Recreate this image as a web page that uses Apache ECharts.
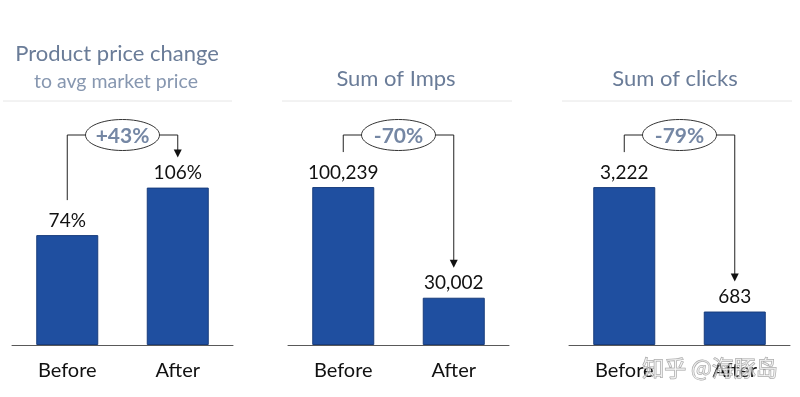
<!DOCTYPE html>
<html>
<head>
<meta charset="utf-8">
<script src="https://cdn.jsdelivr.net/npm/echarts@6/dist/echarts.min.js"></script>
<style>
html,body{margin:0;padding:0;background:#fff;}
#chart{width:800px;height:397px;}
</style>
</head>
<body>
<div id="chart"></div>
<script>
// ---- data ----
const categories = ['Before', 'After'];
const priceValues = [74, 106];
const impsValues = [100239, 30002];
const clickValues = [3222, 683];
const changeLabels = ['+43%', '-70%', '-79%'];
const panelTitles = ['Product price change', 'Sum of Imps', 'Sum of clicks'];
const panelSubtitle = 'to avg market price';
const watermark = '知乎 @海豚岛';

// ---- layout / style ----
const FONT = 'Lato, "Open Sans", sans-serif';
const panels = [
  { values: priceValues, fmt: v => v + '%', left: 12, max: 165, titleX: 117 },
  { values: impsValues, fmt: v => v.toLocaleString('en-US'), left: 288, max: 155500, titleX: 396 },
  { values: clickValues, fmt: v => v.toLocaleString('en-US'), left: 569, max: 5000, titleX: 675 }
];
const GRID_TOP = 100, GRID_H = 245, GRID_W = 221;

const chart = echarts.init(document.getElementById('chart'), null, { renderer: 'canvas' });

const grids = [], xAxes = [], yAxes = [], series = [], titles = [];
panels.forEach((p, i) => {
  grids.push({ left: p.left, width: GRID_W, top: GRID_TOP, height: GRID_H });
  xAxes.push({
    type: 'category', gridIndex: i, data: categories,
    axisLine: { lineStyle: { color: '#595959', width: 1 } },
    axisTick: { show: false },
    axisLabel: { fontSize: 20, color: '#111', margin: 16, fontFamily: FONT }
  });
  yAxes.push({ type: 'value', gridIndex: i, min: 0, max: p.max, show: false, splitLine: { show: false } });
  series.push({
    type: 'bar', xAxisIndex: i, yAxisIndex: i, data: p.values, barWidth: 62,
    itemStyle: { color: '#1f4fa0', borderColor: '#183c7c', borderWidth: 1 },
    label: { show: true, position: 'top', distance: 5, fontSize: 19, color: '#111', fontFamily: FONT,
             formatter: prm => p.fmt(prm.value) },
    animation: false
  });
  titles.push({
    text: panelTitles[i], left: p.titleX, top: i === 0 ? 54 : 79, padding: 0,
    textAlign: 'center', textVerticalAlign: 'middle',
    textStyle: { fontSize: 22, fontWeight: 'normal', color: '#6a7c98', fontFamily: FONT }
  });
});
titles.push({
  text: panelSubtitle, left: 116, top: 82, padding: 0, textAlign: 'center', textVerticalAlign: 'middle',
  textStyle: { fontSize: 19.5, fontWeight: 'normal', color: '#8797b0', fontFamily: FONT }
});

chart.setOption({
  animation: false,
  title: titles,
  grid: grids,
  xAxis: xAxes,
  yAxis: yAxes,
  series: series
});

// ---- annotations built from the library's scales ----
const graphic = [];
[[3, 232], [282, 512], [562, 792]].forEach(([x1, x2]) => {
  graphic.push({ type: 'line', shape: { x1, y1: 101, x2, y2: 101 }, style: { stroke: '#e6e6e6', lineWidth: 1 } });
});
const BRACKET_Y = 135, RX = 37, RY = 15.5;
panels.forEach((p, i) => {
  const xB = chart.convertToPixel({ xAxisIndex: i }, categories[0]);
  const xA = chart.convertToPixel({ xAxisIndex: i }, categories[1]);
  const yB = chart.convertToPixel({ yAxisIndex: i }, p.values[0]);
  const yA = chart.convertToPixel({ yAxisIndex: i }, p.values[1]);
  const cx = (xB + xA) / 2;
  const tip = yA - 30;
  const stroke = { stroke: '#222', lineWidth: 1, fill: null };
  graphic.push({ type: 'polyline', shape: { points: [[xB, yB - 35], [xB, BRACKET_Y], [cx - RX, BRACKET_Y]] }, style: stroke });
  graphic.push({ type: 'polyline', shape: { points: [[cx + RX, BRACKET_Y], [xA, BRACKET_Y], [xA, tip - 7]] }, style: stroke });
  graphic.push({ type: 'polygon', shape: { points: [[xA - 4, tip - 8], [xA + 4, tip - 8], [xA, tip]] }, style: { fill: '#111' } });
  graphic.push({ type: 'ellipse', shape: { cx, cy: BRACKET_Y, rx: RX, ry: RY }, style: { fill: '#fff', stroke: '#333', lineWidth: 1 } });
  graphic.push({ type: 'text', x: cx, y: BRACKET_Y + 1, style: {
    text: changeLabels[i], align: 'center', verticalAlign: 'middle',
    font: 'bold 21px ' + FONT, fill: '#7587a4' } });
});
graphic.push({ type: 'text', x: 710, y: 368, z: 100, style: {
  text: watermark, align: 'center', verticalAlign: 'middle',
  font: '22px "Noto Sans CJK SC", sans-serif', fill: 'rgba(255,255,255,0.55)', stroke: 'rgba(120,120,120,0.7)', lineWidth: 1 } });

chart.setOption({ graphic });
</script>
</body>
</html>
